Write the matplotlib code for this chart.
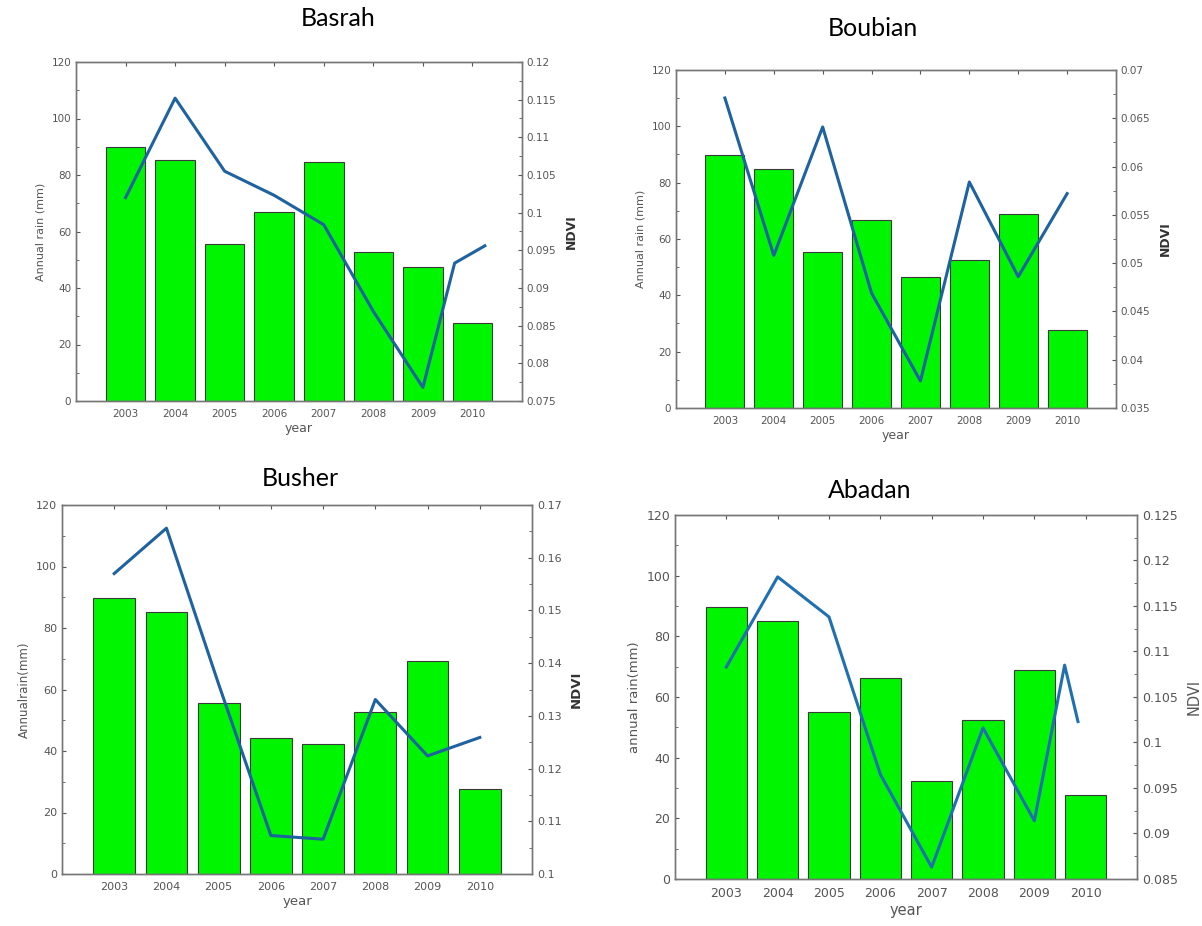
import numpy as np
import matplotlib
matplotlib.use("Agg")
import matplotlib.pyplot as plt
from matplotlib.ticker import FuncFormatter, MultipleLocator

# ── data ──────────────────────────────────────────────────────────
years = [2003, 2004, 2005, 2006, 2007, 2008, 2009, 2010]

basrah_rain = [89.8, 85.2, 55.4, 66.8, 84.6, 52.7, 47.5, 27.7]
basrah_ndvi_x = [2003, 2004, 2005, 2006, 2007, 2008, 2009, 2009.64, 2010.25]
basrah_ndvi = [0.1020, 0.1152, 0.1055, 0.1023, 0.0984, 0.0869, 0.0768, 0.0933, 0.0956]

boubian_rain = [89.7, 85.0, 55.5, 66.7, 46.6, 52.5, 69.0, 27.7]
boubian_ndvi_x = years
boubian_ndvi = [0.0671, 0.0508, 0.0641, 0.0469, 0.0378, 0.0584, 0.0486, 0.0572]

busher_rain = [89.7, 85.2, 55.5, 44.3, 42.2, 52.8, 69.2, 27.8]
busher_ndvi_x = years
busher_ndvi = [0.1570, 0.1656, 0.1360, 0.1073, 0.1066, 0.1331, 0.1224, 0.1259]

abadan_rain = [89.6, 85.0, 55.2, 66.4, 32.2, 52.5, 68.9, 27.7]
abadan_ndvi_x = [2003, 2004, 2005, 2006, 2007, 2008, 2009, 2009.59, 2009.85]
abadan_ndvi = [0.1083, 0.1182, 0.1138, 0.0965, 0.0863, 0.1016, 0.0914, 0.1085, 0.1023]

# ── style ─────────────────────────────────────────────────────────
GREEN = "#00f500"
EDGE = "#3a3a3a"
LINE = "#1f62a0"
GREY = "#555555"
TITLE_FONT = ["Lato", "DejaVu Sans"]

W, H = 1202, 926
fig = plt.figure(figsize=(W / 100, H / 100), dpi=100, facecolor="white")


def px_axes(x0, y0, x1, y1):
    """Axes from pixel box (left, top, right, bottom)."""
    return fig.add_axes([x0 / W, 1 - y1 / H, (x1 - x0) / W, (y1 - y0) / H])


def g_fmt(v, _):
    return f"{v:g}"


def panel(box, title, title_xy, rain, ndvi_x, ndvi, nd_lim, nd_step,
          ylabel, nd_bold=True, fs=7.5, line=LINE):
    ax = px_axes(*box)
    ax.bar(years, rain, width=0.8, color=GREEN, edgecolor=EDGE, linewidth=0.8,
           zorder=2)
    ax.set_xlim(2002, 2011)
    ax.set_ylim(0, 120)
    ax.set_xticks(years)
    ax.yaxis.set_major_locator(MultipleLocator(20))
    ax.yaxis.set_minor_locator(MultipleLocator(10))
    ax.tick_params(axis="both", which="both", direction="in", colors=GREY,
                   labelsize=fs, top=True, length=3)
    ax.tick_params(axis="x", pad=6)
    ax.tick_params(axis="y", which="minor", length=2)
    for s in ax.spines.values():
        s.set_color("#777777")
        s.set_linewidth(1.0)
    ax.set_xlabel("year", color=GREY, fontsize=fs + 1.5, labelpad=2)
    ax.set_ylabel(ylabel, color=GREY, fontsize=fs + 0.5, labelpad=4)

    ax2 = ax.twinx()
    ax2.plot(ndvi_x, ndvi, color=line, lw=2.2, zorder=3)
    ax2.set_ylim(*nd_lim)
    ax2.yaxis.set_major_locator(MultipleLocator(nd_step))
    ax2.yaxis.set_minor_locator(MultipleLocator(nd_step / 2))
    ax2.yaxis.set_major_formatter(FuncFormatter(g_fmt))
    ax2.tick_params(axis="y", which="both", direction="in", colors=GREY,
                    labelsize=fs, length=3)
    ax2.tick_params(axis="y", which="minor", length=2)
    for s in ax2.spines.values():
        s.set_color("#777777")
        s.set_linewidth(1.0)
    ax2.set_ylabel("NDVI", color="#333333" if nd_bold else GREY,
                   fontsize=fs + 1.5, weight="bold" if nd_bold else "normal",
                   labelpad=6)

    fig.text(title_xy[0] / W, 1 - title_xy[1] / H, title, ha="center",
             va="center", fontsize=18, family=TITLE_FONT, color="black")
    return ax, ax2


panel((76, 62, 522, 401), "Basrah", (338, 18), basrah_rain, basrah_ndvi_x,
      basrah_ndvi, (0.075, 0.12), 0.005, "Annual rain (mm)")
panel((676, 70, 1116, 408), "Boubian", (873, 28), boubian_rain, boubian_ndvi_x,
      boubian_ndvi, (0.035, 0.07), 0.005, "Annual rain (mm)")
panel((62, 505, 532, 874), "Busher", (300, 478), busher_rain, busher_ndvi_x,
      busher_ndvi, (0.1, 0.17), 0.01, "Annualrain(mm)", fs=8)
panel((675, 515, 1137, 879), "Abadan", (870, 490), abadan_rain, abadan_ndvi_x,
      abadan_ndvi, (0.085, 0.125), 0.005, "annual rain(mm)", nd_bold=False,
      fs=9, line="#2070b0")

fig.savefig("out.png", dpi=100, facecolor="white")
